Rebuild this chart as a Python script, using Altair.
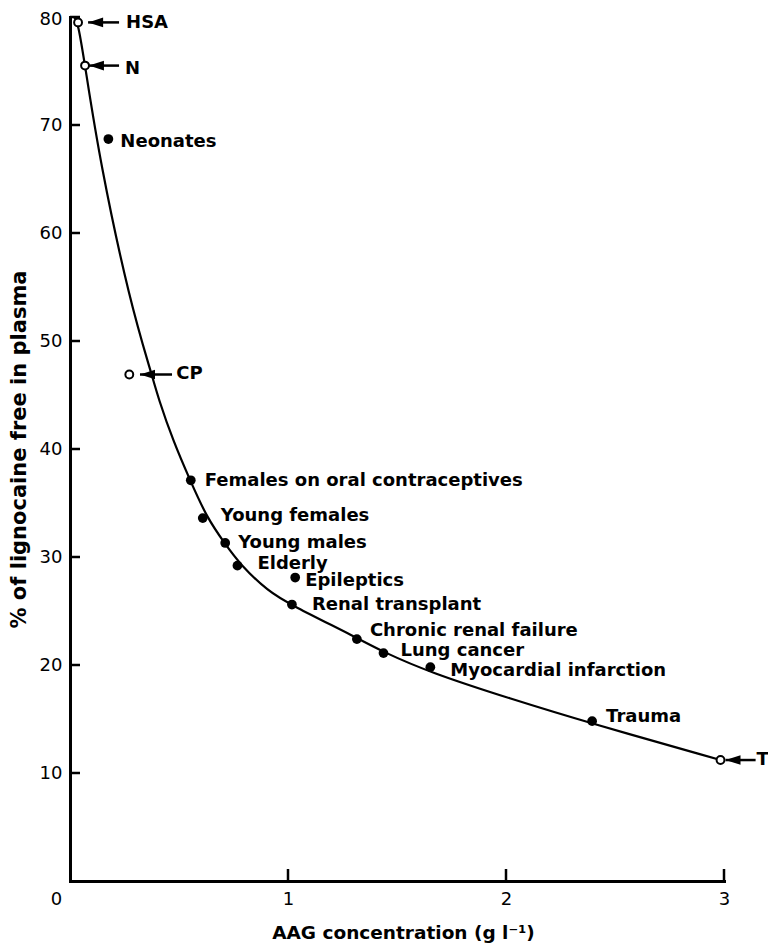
import altair as alt
import pandas as pd

# ---- data ----
names = ["HSA", "N", "Neonates", "CP", "Females on oral contraceptives",
         "Young females", "Young males", "Elderly", "Epileptics",
         "Renal transplant", "Chronic renal failure", "Lung cancer",
         "Myocardial infarction", "Trauma", "T"]
aag = [0.037, 0.069, 0.176, 0.272, 0.554, 0.609, 0.712, 0.768, 1.033,
       1.018, 1.316, 1.438, 1.653, 2.395, 2.984]
free = [79.5, 75.5, 68.7, 46.9, 37.1, 33.6, 31.3, 29.2, 28.1,
        25.6, 22.4, 21.1, 19.8, 14.8, 11.2]
kind = ["open", "open", "filled", "open", "filled", "filled", "filled",
        "filled", "filled", "filled", "filled", "filled", "filled",
        "filled", "open"]

curve_x = [0.018, 0.037, 0.069, 0.138, 0.275, 0.375, 0.405, 0.474, 0.551,
           0.629, 0.712, 0.781, 0.910, 1.010, 1.318, 1.437, 1.653, 2.016,
           2.388, 2.984]
curve_y = [80.0, 79.5, 75.5, 66.5, 53.6, 46.9, 44.7, 40.7, 37.1,
           33.6, 31.2, 29.3, 26.8, 25.6, 22.5, 21.2, 19.3, 16.9,
           14.6, 11.2]

arrow_names = ["HSA", "N", "CP", "T"]
arrow_tip = [0.083, 0.087, 0.321, 3.007]
arrow_tail = [0.225, 0.225, 0.468, 3.145]
arrow_y = [79.5, 75.5, 46.9, 11.2]

x_ticks = [0, 1, 2, 3]
y_ticks = [10, 20, 30, 40, 50, 60, 70, 80]

# label offsets (style, pixels)
label_dx = [48, 40, 12, 47, 14, 18, 13, 20, 10, 20, 13, 17, 20, 14, 36]
label_dy = [1, 3, 3, 0, 1, -2, 0, -2, 3, 0, -8, -2, 4, -4, 0]

W, H = 654, 864
FONT = "DejaVu Sans"

pts = pd.DataFrame({"name": names, "aag": aag, "free": free, "kind": kind})
curve = pd.DataFrame({"aag": curve_x, "free": curve_y})
arrows = pd.DataFrame({"name": arrow_names, "tip": arrow_tip,
                       "tail": arrow_tail, "free": arrow_y})
xt = pd.DataFrame({"v": x_ticks})
yt = pd.DataFrame({"v": y_ticks})

xs = alt.Scale(domain=[0, 3], nice=False, zero=False)
ys = alt.Scale(domain=[0, 80], nice=False, zero=False)

X_TITLE = "AAG concentration (g l\u207b\u00b9)"
Y_TITLE = "% of lignocaine free in plasma"

x_axis = alt.Axis(
    values=x_ticks, ticks=False, grid=False, domainColor="black",
    domainWidth=3, domainCap="square", labelFont=FONT, labelFontSize=18,
    labelColor="black", labelPadding=9, labelFlush=False,
    labelOffset={"condition": {"test": "datum.value == 0", "value": -14}, "value": 0},
    title=X_TITLE, titleFont=FONT,
    titleFontSize=18.5, titleFontWeight="bold", titleColor="black",
    titleX=333, titleAlign="center", titleY=57, titleBaseline="alphabetic",
)
y_axis = alt.Axis(
    values=y_ticks, ticks=False, grid=False, domainColor="black",
    domainWidth=3, domainCap="square", labelFont=FONT, labelFontSize=18,
    labelColor="black", labelPadding=8, labelFlush=False,
    labelOffset={"condition": {"test": "datum.value == 80", "value": 2}, "value": 0},
    title=Y_TITLE, titleFont=FONT,
    titleFontSize=21, titleFontWeight="bold", titleColor="black",
    titleX=-45, titleBaseline="alphabetic",
)


def X(field):
    return alt.X(field, scale=xs, axis=x_axis, title=X_TITLE)


def Y(field):
    return alt.Y(field, scale=ys, axis=y_axis, title=Y_TITLE)


line = alt.Chart(curve).mark_line(
    color="black", strokeWidth=2.2, interpolate="basis"
).encode(x=X("aag:Q"), y=Y("free:Q"))

ytick_layer = alt.Chart(yt).mark_rule(color="black", strokeWidth=2.5).encode(
    y=Y("v:Q"), x=alt.value(0), x2=alt.value(10),
)
xtick_layer = alt.Chart(xt).transform_filter("datum.v > 0").mark_rule(
    color="black", strokeWidth=2.5).encode(
    x=X("v:Q"), y=alt.value(H), y2=alt.value(H - 12),
)

filled = alt.Chart(pts).transform_filter(alt.datum.kind == "filled").mark_circle(
    color="black", size=95, opacity=1).encode(x=X("aag:Q"), y=Y("free:Q"))
opened = alt.Chart(pts).transform_filter(alt.datum.kind == "open").mark_point(
    shape="circle", fill="white", stroke="black", strokeWidth=2, size=62,
    opacity=1, filled=False).encode(x=X("aag:Q"), y=Y("free:Q"))

shafts = alt.Chart(arrows).mark_rule(color="black", strokeWidth=2.5).encode(
    x=X("tip:Q"), x2="tail:Q", y=Y("free:Q"),
)
heads = alt.Chart(arrows).mark_point(
    shape="M0,0L1,-0.32L1,0.32Z", filled=True, color="black", size=900,
    opacity=1, strokeWidth=0).encode(x=X("tip:Q"), y=Y("free:Q"))

layers = [line, ytick_layer, xtick_layer, filled, opened, shafts, heads]
for n, dx, dy in zip(names, label_dx, label_dy):
    layers.append(
        alt.Chart(pts).transform_filter(alt.datum.name == n).mark_text(
            align="left", baseline="middle", dx=dx, dy=dy, font=FONT,
            fontSize=18, fontWeight="bold", color="black").encode(
            x=X("aag:Q"), y=Y("free:Q"), text="name:N",
        )
    )

chart = alt.layer(*layers).properties(
    width=W, height=H,
    autosize=alt.AutoSizeParams(type="none"),
    padding={"left": 62, "top": 9, "right": 44, "bottom": 64},
    background="white",
).configure_view(stroke=None)

chart.save("out.html", embed_options={"renderer": "svg", "actions": False})
